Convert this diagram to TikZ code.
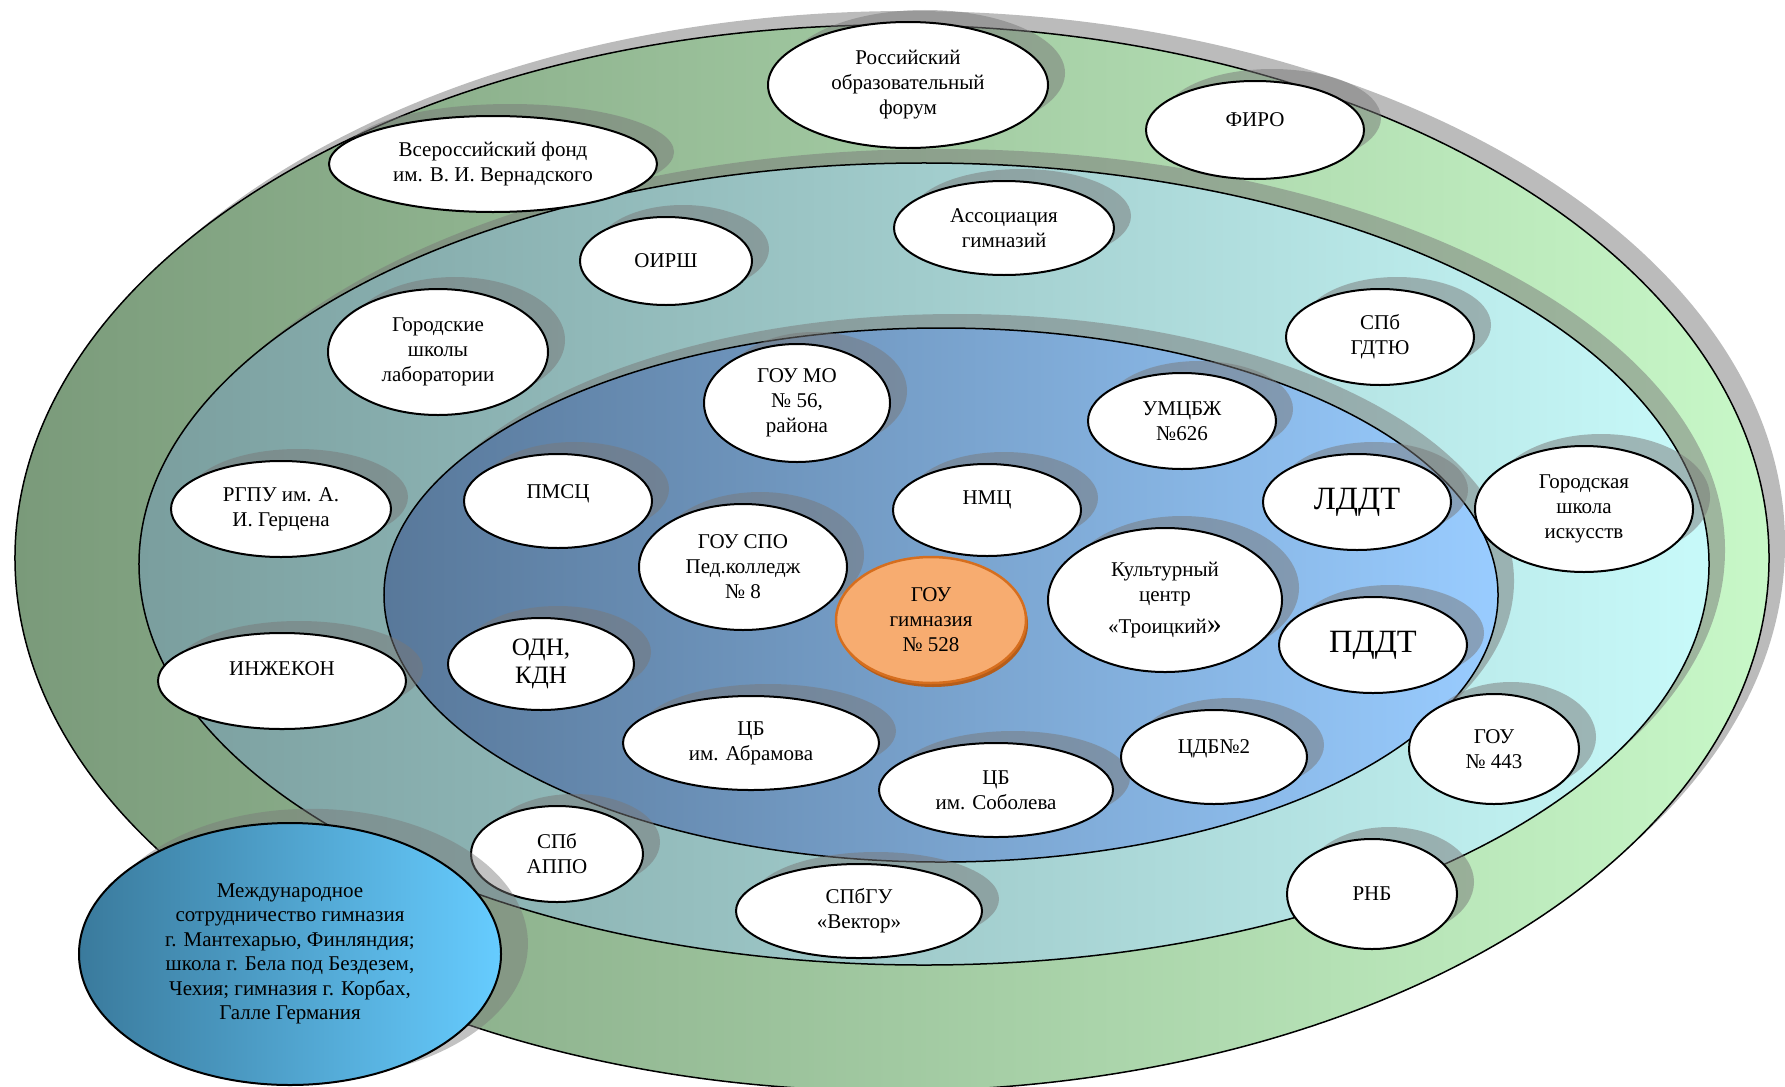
\documentclass[tikz,border=0pt]{standalone}
\usepackage{fontspec}
\setmainfont{Liberation Serif}
\newfontfamily\labelfont{Liberation Serif}
\usepackage{tikz}
\usetikzlibrary{shapes.geometric,shadows}
\definecolor{moss}{RGB}{122,154,122}
\definecolor{mint}{RGB}{200,248,200}
\definecolor{slate}{RGB}{122,158,158}
\definecolor{ice}{RGB}{200,250,250}
\definecolor{steel}{RGB}{88,120,154}
\definecolor{sky}{RGB}{153,204,255}
\definecolor{ocean}{RGB}{58,122,156}
\definecolor{azure}{RGB}{102,204,255}
\definecolor{peach}{RGB}{247,172,112}
\definecolor{pumpkin}{RGB}{241,136,50}
\definecolor{rust}{RGB}{214,110,30}
\definecolor{smoke}{RGB}{120,120,120}

\begin{document}
\begin{tikzpicture}[x=0.4pt, y=-0.4pt,
    partner/.style={ellipse, draw, line width=0.8pt, fill=white, inner sep=0pt, align=center,
      font=\labelfont\fontsize{8.4}{10}\selectfont,
      drop shadow={shadow xshift=6.8pt, shadow yshift=4.8pt, fill=smoke, opacity=0.5}},
    oval/.style 2 args={minimum width=#1*0.8pt, minimum height=#2*0.8pt},
    big/.style={font=\labelfont\fontsize{13}{15}\selectfont},
    ringshadow/.style={fill=smoke, opacity=0.5},
    ring/.style={draw, line width=0.6pt}]
  \clip (0,0) rectangle (1785,1086);

  % rings
  \fill[ringshadow] (908,544) ellipse [x radius=350.8pt, y radius=213.2pt];
  \path[ring, left color=moss, right color=mint] (892,558) ellipse [x radius=350.8pt, y radius=213.2pt];
  \fill[ringshadow] (940,550) ellipse [x radius=314pt, y radius=160.4pt];
  \path[ring, left color=slate, right color=ice] (924,564) ellipse [x radius=314pt, y radius=160.4pt];
  \fill[ringshadow] (957,581) ellipse [x radius=222.8pt, y radius=106.8pt];
  \path[ring, left color=steel, right color=sky] (941,595) ellipse [x radius=222.8pt, y radius=106.8pt];

  % outer ring
  \node[partner, oval={140}{63}] (forum) at (908,85) {Российский\\образовательный\\форум};
  \node[partner, oval={109}{49}, text depth=8pt] (firo) at (1255,130) {ФИРО};
  \node[partner, oval={164}{48}] (vernadsky) at (493,164) {Всероссийский фонд\\им. В. И. Вернадского};

  % middle ring
  \node[partner, oval={110}{47}] (assoc) at (1004,228) {Ассоциация\\гимназий};
  \node[partner, oval={86}{44}] (oirsh) at (666,261) {ОИРШ};
  \node[partner, oval={110}{63}] (labs) at (438,352) {Городские\\школы\\лаборатории};
  \node[partner, oval={94}{48}] (gdtyu) at (1380,337) {СПб\\ГДТЮ};
  \node[partner, oval={110}{48}] (rgpu) at (281,509) {РГПУ им. А.\\И. Герцена};
  \node[partner, oval={109}{63}] (arts) at (1584,509) {Городская\\школа\\искусств};
  \node[partner, oval={124}{48}, text depth=9.6pt] (inzhekon) at (282,681) {ИНЖЕКОН};
  \node[partner, oval={85}{55}] (gou443) at (1494,749) {ГОУ\\№ 443};
  \node[partner, oval={86}{48}] (appo) at (557,854) {СПб\\АППО};
  \node[partner, oval={123}{47}] (vector) at (859,911) {СПбГУ\\«Вектор»};
  \node[partner, oval={85}{55}] (rnb) at (1372,894) {РНБ};

  % inner ring
  \node[partner, oval={93}{59}] (gou56) at (797,403) {ГОУ МО\\№ 56,\\района};
  \node[partner, oval={94}{48}] (umcbzh) at (1182,421) {УМЦБЖ\\№626};
  \node[partner, oval={94}{47}, text depth=7.2pt] (pmsc) at (558,501) {ПМСЦ};
  \node[partner, oval={94}{46}, text depth=10pt] (nmc) at (987,510) {НМЦ};
  \node[partner, big, oval={94}{48}] (lddt) at (1357,502) {ЛДДТ};
  \node[partner, oval={104}{63}] (pedcol) at (743,567) {ГОУ СПО\\Пед.колледж\\№ 8};
  \node[partner, oval={117}{72}] (troitsky) at (1165,600) {Культурный\\центр\\[3pt]«Троицкий{\large»}};
  \node[partner, big, oval={94}{48}] (pddt) at (1373,645) {ПДДТ};
  \node[partner, oval={93}{46}, font=\labelfont\fontsize{10}{11.5}\selectfont] (odn) at (541,664) {ОДН,\\КДН};
  \node[partner, oval={128}{47}] (cbabr) at (751,743) {ЦБ\\им. Абрамова};
  \node[partner, oval={117}{47}] (cbsob) at (996,790) {ЦБ\\им. Соболева};
  \node[partner, oval={93}{47}, text depth=8pt] (cdb2) at (1214,757) {ЦДБ№2};

  % centre
  \node[ellipse, draw=rust, line width=1pt, inner sep=0pt, align=center, oval={95}{63},
    font=\labelfont\fontsize{8.4}{10}\selectfont, top color=peach, middle color=pumpkin, bottom color=peach,
    drop shadow={shadow xshift=0.8pt, shadow yshift=-1.6pt, fill=rust!85!black, opacity=1}]
    (gym528) at (931,620) {ГОУ\\гимназия\\№ 528};

  % abroad
  \node[ellipse, draw, line width=0.8pt, inner sep=0pt, align=center, oval={211}{131},
    font=\labelfont\fontsize{8.4}{9.8}\selectfont, left color=ocean, right color=azure,
    drop shadow={shadow xshift=8pt, shadow yshift=4pt, shadow scale=1.03, fill=smoke, opacity=0.45}]
    (intl) at (290,954) {Международное\\сотрудничество гимназия\\г. Мантехарью, Финляндия;\\школа г. Бела под Бездезем,\\Чехия; гимназия г. Корбах,\\Галле Германия};
\end{tikzpicture}
\end{document}
